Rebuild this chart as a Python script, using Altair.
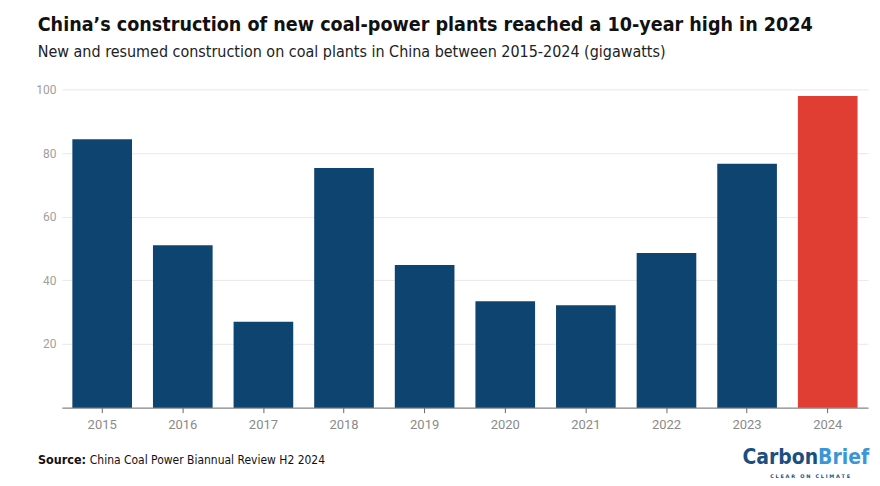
import altair as alt
import pandas as pd

years = ["2015", "2016", "2017", "2018", "2019", "2020", "2021", "2022", "2023", "2024"]
values = [84.3, 51.0, 27.0, 75.3, 44.8, 33.4, 32.2, 48.6, 76.6, 97.9]
highlight = ["no", "no", "no", "no", "no", "no", "no", "no", "no", "yes"]

df = pd.DataFrame({"year": years, "value": values, "hl": highlight})

NARROW = "DejaVu Sans Condensed, Liberation Sans Narrow, sans-serif"

bars = alt.Chart(df).mark_bar().encode(
    x=alt.X("year:N", sort=years, title=None,
            scale=alt.Scale(paddingInner=0.26, paddingOuter=0.13),
            axis=alt.Axis(labelAngle=0, labelColor="#8a8a8a", labelFontSize=13,
                          labelFont="Roboto", domainColor="#666666", tickColor="#666666",
                          tickSize=5, labelPadding=6, grid=False)),
    y=alt.Y("value:Q", title=None,
            scale=alt.Scale(domain=[0, 100]),
            axis=alt.Axis(values=[20, 40, 60, 80, 100], labelColor="#a0a0a0", labelFontSize=12,
                          labelFont="Roboto", domain=False, ticks=False, gridColor="#e8e8e8",
                          labelPadding=6)),
    color=alt.Color("hl:N", scale=alt.Scale(domain=["no", "yes"], range=["#0e4470", "#e03e32"]),
                    legend=None),
)

src = pd.DataFrame({"a": ["Source:"], "b": ["China Coal Power Biannual Review H2 2024"]})
source_bold = alt.Chart(src).mark_text(align="left", baseline="middle", font=NARROW,
                                       fontWeight="bold", fontSize=12.5, color="#111111").encode(
    text="a:N", x=alt.value(-24), y=alt.value(372))
source_rest = alt.Chart(src).mark_text(align="left", baseline="middle", font=NARROW,
                                       fontSize=12, color="#111111").encode(
    text="b:N", x=alt.value(28), y=alt.value(372))

NB = "\u00a0"
tagline = NB.join("CLEAR") + NB * 3 + NB.join("ON") + NB * 3 + NB.join("CLIMATE")
logo = pd.DataFrame({"c": ["Carbon"], "d": ["Brief"], "e": [tagline]})
logo1 = alt.Chart(logo).mark_text(align="right", baseline="middle", font=NARROW,
                                  fontWeight="bold", fontSize=21, color="#1b4f7f").encode(
    text="c:N", x=alt.value(758), y=alt.value(370))
logo2 = alt.Chart(logo).mark_text(align="left", baseline="middle", font=NARROW,
                                  fontWeight="bold", fontSize=21, color="#3a96d6").encode(
    text="d:N", x=alt.value(758), y=alt.value(370))
logo3 = alt.Chart(logo).mark_text(align="center", baseline="middle", font="DejaVu Sans",
                                  fontWeight="bold", fontSize=5, color="#1b4f7f").encode(
    text="e:N", x=alt.value(750), y=alt.value(388))

chart = alt.layer(bars, source_bold, source_rest, logo1, logo2, logo3).properties(
    width=808, height=319,
    title=alt.TitleParams(
        text="China\u2019s construction of new coal-power plants reached a 10-year high in 2024",
        subtitle="New and resumed construction on coal plants in China between 2015-2024 (gigawatts)",
        anchor="start", dx=2, offset=22,
        font=NARROW, fontSize=19.6, fontWeight="bold", color="#111111",
        subtitleFont=NARROW, subtitleFontSize=16, subtitleColor="#222222",
        subtitlePadding=9,
    ),
    padding={"left": 54, "top": 81, "right": 4, "bottom": 76},
    autosize=alt.AutoSizeParams(type="none"),
).configure_view(stroke=None)

chart.save("out.html", embed_options={"renderer": "svg", "actions": False})
